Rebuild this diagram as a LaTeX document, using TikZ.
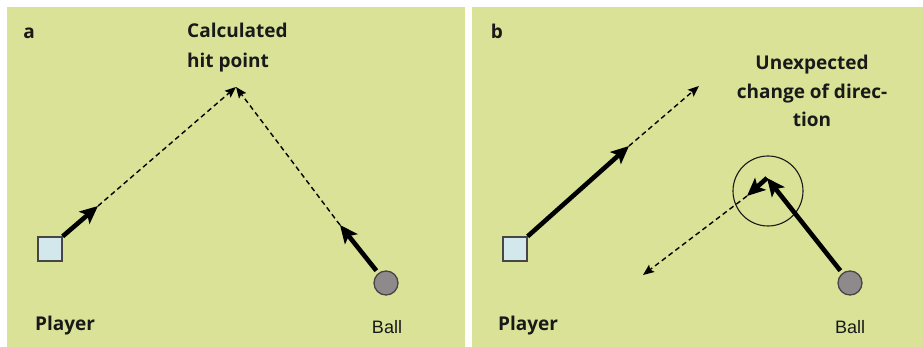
\documentclass[tikz,border=0pt]{standalone}
\usepackage{fontspec}
\setmainfont{Open Sans}
\newfontfamily\arialf{Liberation Sans}
\usetikzlibrary{arrows.meta}
\definecolor{bggreen}{RGB}{217,226,150}
\definecolor{sqblue}{RGB}{210,232,236}
\definecolor{ballgray}{RGB}{142,138,140}
\definecolor{edgegray}{RGB}{70,70,70}
\definecolor{txt}{RGB}{25,25,25}
\tikzset{
  playersq/.style={rectangle, draw=edgegray, line width=1.3pt, fill=sqblue, minimum size=24pt, inner sep=0pt},
  ballc/.style={circle, draw=edgegray, line width=1.3pt, fill=ballgray, minimum size=24pt, inner sep=0pt},
  thickarrow/.style={line width=4.6pt, -{Stealth[length=18pt,width=16pt,inset=4pt]}},
  dasharrow/.style={line width=1.4pt, dash pattern=on 5pt off 3.5pt, -{Stealth[length=11pt,width=9pt,inset=2pt]}},
  lbl/.style={text=txt, font=\fontsize{19}{30}\selectfont\bfseries, inner sep=0pt},
  ballt/.style={text=txt, font=\fontsize{18}{22}\selectfont\arialf, inner sep=0pt},
}
\begin{document}
\begin{tikzpicture}[x=1pt,y=-1pt]
\useasboundingbox (0,0) rectangle (923,347);
\fill[white] (0,0) rectangle (923,347);
\fill[bggreen] (7,7) rectangle (465,347);
\fill[bggreen] (472,7) rectangle (923,347);

% ---------- panel a ----------
\node[lbl, anchor=base] (la) at (29,39) {a};
\node[lbl, anchor=base west, align=left] (calc) at (187,68) {Calculated\\hit point};
\coordinate (hit) at (236,87);
\node[playersq] (pA) at (50,249) {};
\node[ballc] (bA) at (386,283) {};
\coordinate (a1) at (98,206);
\coordinate (a2) at (340,225);
\draw[thickarrow] (pA.north east) -- (a1);
\draw[dasharrow] (a1) -- (hit);
\draw[thickarrow, shorten <=3pt] (bA.128) -- (a2);
\draw[dasharrow] (a2) -- (hit);
\node[lbl, anchor=base west] (plA) at (35,330) {Player};
\node[ballt, anchor=base] (blA) at (387,333) {Ball};

% ---------- panel b ----------
\node[lbl, anchor=base] (lb) at (497,39) {b};
\node[lbl, anchor=base, align=center, font=\fontsize{19}{28.5}\selectfont\bfseries] (unexp) at (812,127) {Unexpected\\change of direc-\\tion};
\node[playersq] (pB) at (515,249) {};
\node[ballc] (bB) at (850,283) {};
\node[circle, draw=txt, line width=1.1pt, minimum size=70pt, inner sep=0pt] (ring) at (768,191) {};
\coordinate (b1) at (629,146);
\coordinate (b2) at (699,86);
\coordinate (turn) at (767,178);
\coordinate (b3) at (747,196);
\coordinate (b4) at (643,275);
\draw[thickarrow] (pB.north east) -- (b1);
\draw[dasharrow] (b1) -- (b2);
\draw[thickarrow, shorten <=3pt] (bB.128) -- (turn);
\draw[thickarrow] (turn) -- (b3);
\draw[dasharrow] (b3) -- (b4);
\node[lbl, anchor=base west] (plB) at (498,330) {Player};
\node[ballt, anchor=base] (blB) at (850,333) {Ball};
\end{tikzpicture}
\end{document}
